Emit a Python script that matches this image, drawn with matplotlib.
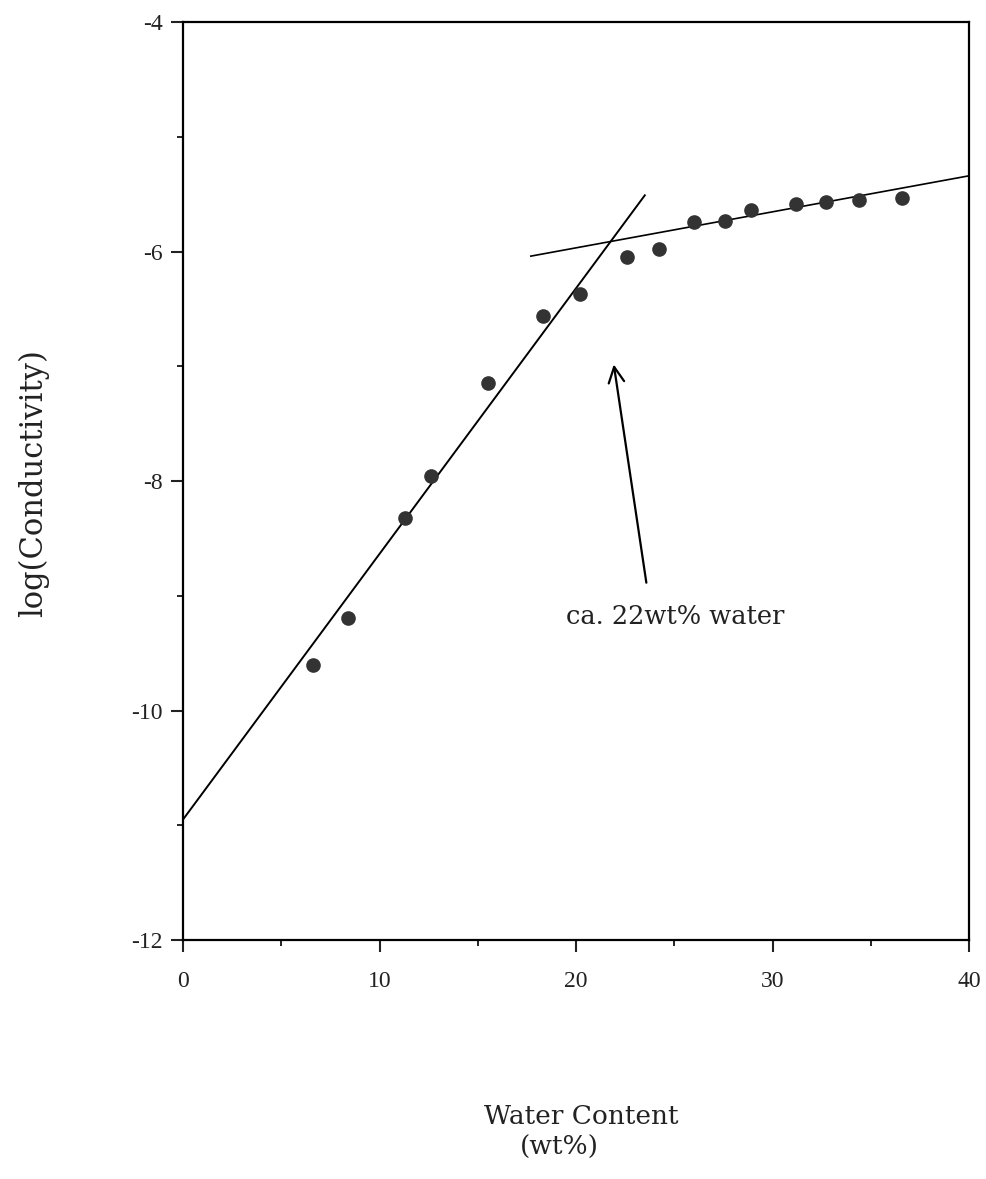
import matplotlib
matplotlib.use("Agg")
import matplotlib.pyplot as plt
from matplotlib.ticker import MultipleLocator

plt.rcParams['font.family'] = ['Liberation Serif', 'DejaVu Serif']
plt.rcParams['axes.unicode_minus'] = False

# measured points: water content (wt%) vs log(conductivity)
water = [6.6, 8.4, 11.3, 12.6, 15.5, 18.3, 20.2, 22.6, 24.2,
         26.0, 27.6, 28.9, 31.2, 32.7, 34.4, 36.6]
logcond = [-9.60, -9.19, -8.32, -7.96, -7.15, -6.56, -6.37, -6.05, -5.98,
           -5.74, -5.73, -5.64, -5.59, -5.57, -5.55, -5.53]

# two fitted lines (end points)
steep_x = [0, 23.5]
steep_y = [-10.95, -5.51]
flat_x = [17.7, 40]
flat_y = [-6.04, -5.34]

# arrow pointing at the break
arrow_tip = (21.9, -6.96)
arrow_tail = (23.6, -8.91)
note = "ca. 22wt% water"

fig = plt.figure(figsize=(9.86, 11.79), dpi=100)
ax = fig.add_axes([0.1856, 0.2027, 0.7972, 0.7786])

ax.plot(steep_x, steep_y, color='black', lw=1.4)
ax.plot(flat_x, flat_y, color='black', lw=1.2)
ax.plot(water, logcond, 'o', color='#333333', markersize=9.5, zorder=3)

ax.annotate('', xy=arrow_tip, xytext=arrow_tail,
            arrowprops=dict(arrowstyle='->', color='black', lw=1.6,
                            mutation_scale=28))
ax.text(19.5, -9.18, note, fontsize=18.5, va='center', ha='left',
        color='#222222', family='DejaVu Serif')

ax.set_xlim(0, 40)
ax.set_ylim(-12, -4)
ax.xaxis.set_major_locator(MultipleLocator(10))
ax.xaxis.set_minor_locator(MultipleLocator(5))
ax.yaxis.set_major_locator(MultipleLocator(2))
ax.yaxis.set_minor_locator(MultipleLocator(1))
ax.tick_params(axis='both', which='major', direction='out', length=8.5,
               width=1.5, labelsize=17, colors='#222222')
ax.tick_params(axis='both', which='minor', direction='out', length=4, width=1.2)
ax.tick_params(axis='y', which='major', pad=6)
ax.tick_params(axis='x', which='major', pad=14)
for s in ax.spines.values():
    s.set_linewidth(1.6)

fig.text(0.0335, 0.5903, 'log(Conductivity)', rotation=90, fontsize=22,
         ha='center', va='center', color='#222222', family='DejaVu Serif')
fig.text(0.589, 0.0526, 'Water Content', fontsize=19, ha='center',
         va='center', color='#222222', family='DejaVu Serif')
fig.text(0.567, 0.027, '(wt%)', fontsize=19, ha='center',
         va='center', color='#222222', family='DejaVu Serif')

fig.savefig('out.png', dpi=100)
